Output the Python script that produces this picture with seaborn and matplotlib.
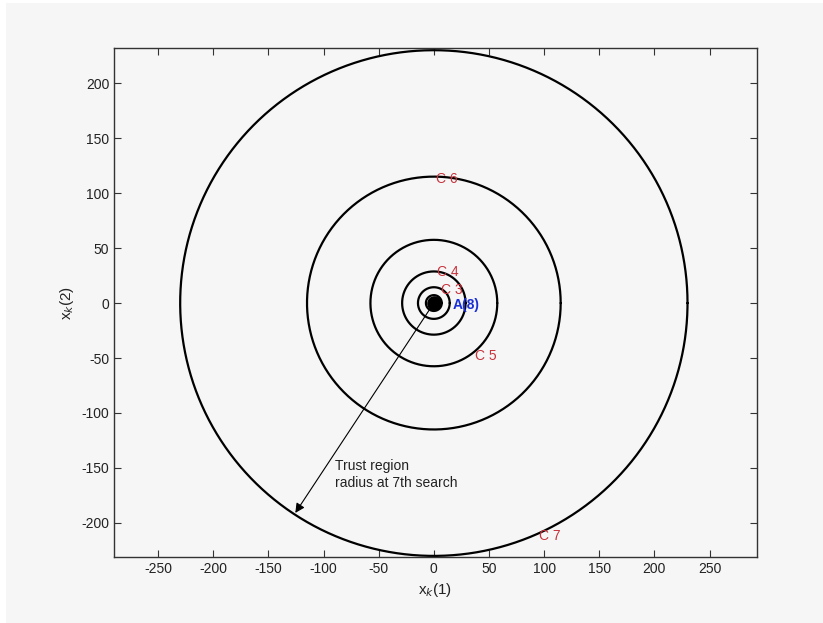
import numpy as np
import matplotlib
matplotlib.use("Agg")
import matplotlib.pyplot as plt
from matplotlib.patches import Rectangle
import seaborn as sns

# trust region radii for searches 1..7
radii = [3.6, 7.2, 14.4, 28.75, 57.5, 115, 230]

# circle labels (text, x, y)
label_text = ["C 3", "C 4", "C 5", "C 6", "C 7"]
label_x = [16, 13, 47, 12, 105]
label_y = [12, 28, -48, 113, -212]

point_label = "A(8)"
point_xy = (29, -2)

arrow_tip = (-127, -193)
note_text = "Trust region\nradius at 7th search"
note_xy = (-90, -156)

xticks = [-250, -200, -150, -100, -50, 0, 50, 100, 150, 200, 250]
yticks = [-200, -150, -100, -50, 0, 50, 100, 150, 200]

sns.set_style("white")
plt.rcParams['font.family'] = ['Liberation Sans', 'DejaVu Sans']
plt.rcParams['axes.unicode_minus'] = False

fig = plt.figure(figsize=(8.23, 6.23), dpi=100, facecolor="white")
fig.patches.append(Rectangle((6 / 823, -0.01), 1.02, 1.01 - 3 / 623, transform=fig.transFigure,
                             facecolor="#f6f6f6", edgecolor="none", zorder=-10))
ax = fig.add_axes([114 / 823, 1 - 557 / 623, 643 / 823, 509 / 623])
ax.set_facecolor("#f6f6f6")

theta = np.linspace(0, 2 * np.pi, 400)
for r in radii:
    sns.lineplot(x=r * np.cos(theta), y=r * np.sin(theta), sort=False,
                 estimator=None, color="black", linewidth=1.6, ax=ax)

ax.scatter([0], [0], s=90, color="black", zorder=5)

for t, x, y in zip(label_text, label_x, label_y):
    ax.text(x, y, t, color="#c8323c", fontsize=10, ha="center", va="center")

ax.text(point_xy[0], point_xy[1], point_label, color="#1a2fd6", fontsize=10,
        fontweight="bold", ha="center", va="center")

ax.annotate("", xy=arrow_tip, xytext=(0, 0),
            arrowprops=dict(arrowstyle="-|>", color="black", lw=0.8,
                            mutation_scale=14))
ax.text(note_xy[0], note_xy[1], note_text, fontsize=10, ha="left", va="center",
        color="#222222", linespacing=1.2)

ax.set_xlim(-290, 293)
ax.set_ylim(-231, 232)
ax.set_xticks(xticks)
ax.set_yticks(yticks)
ax.tick_params(direction="in", length=5, width=0.8, top=True, right=True,
               bottom=True, left=True,
               labelsize=10, colors="#333333", labelcolor="#222222")
for s in ax.spines.values():
    s.set_color("#333333")
    s.set_linewidth(1.0)

ax.set_xlabel(r"x$_k$(1)", fontsize=11, color="#222222")
ax.set_ylabel(r"x$_k$(2)", fontsize=11, color="#222222")

fig.savefig("out.png", dpi=100, facecolor=fig.get_facecolor())
